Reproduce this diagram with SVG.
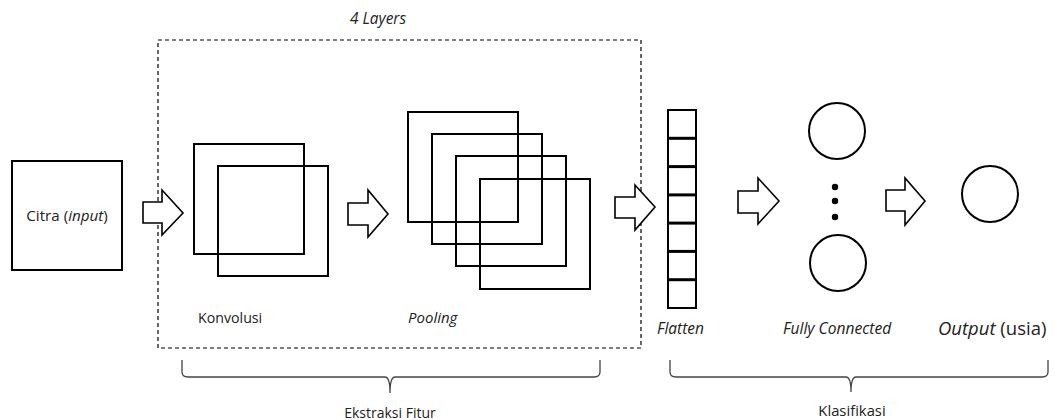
<svg xmlns="http://www.w3.org/2000/svg" width="1055" height="420" viewBox="0 0 1055 420">
  <style>
    .bx { fill: none; stroke: #000; stroke-width: 2; }
    .ar { fill: #fff; stroke: #000; stroke-width: 1.6; stroke-linejoin: miter; }
    .dash { fill: none; stroke: #000; stroke-width: 1.2; stroke-dasharray: 4 3; }
    .brace { fill: none; stroke: #444; stroke-width: 1.3; }
    .sep { stroke: #000; stroke-width: 3; }
    text { font-family: "Open Sans", "Noto Sans", "DejaVu Sans", sans-serif; font-size: 14px; fill: #222; }
    .it { font-style: italic; }
  </style>

  <!-- feature-extraction frame -->
  <g id="frame">
    <rect class="dash" x="158" y="40" width="483" height="308"/>
    <text class="it" x="350" y="24" style="font-size:15.4px">4 Layers</text>
  </g>

  <!-- input image -->
  <g id="input">
    <rect class="bx" x="12" y="161" width="110" height="109"/>
    <text x="67" y="221" text-anchor="middle" style="font-size:15.2px">Citra (<tspan class="it">input</tspan>)</text>
  </g>

  <!-- convolution maps -->
  <g id="konvolusi">
    <rect class="bx" x="194" y="144" width="110" height="110"/>
    <rect class="bx" x="218" y="166" width="110" height="110"/>
    <text x="198" y="323" style="font-size:14.2px">Konvolusi</text>
  </g>

  <!-- pooling maps -->
  <g id="pooling">
    <rect class="bx" x="408" y="112" width="110" height="110"/>
    <rect class="bx" x="432" y="134" width="110" height="110"/>
    <rect class="bx" x="456" y="156" width="110" height="110"/>
    <rect class="bx" x="480" y="179" width="110" height="110"/>
    <text class="it" x="408" y="323" style="font-size:15px">Pooling</text>
  </g>

  <!-- flatten vector -->
  <g id="flatten">
    <rect class="bx" x="668" y="110" width="28" height="198"/>
    <line class="sep" x1="668" y1="138.3" x2="696" y2="138.3"/>
    <line class="sep" x1="668" y1="166.6" x2="696" y2="166.6"/>
    <line class="sep" x1="668" y1="194.9" x2="696" y2="194.9"/>
    <line class="sep" x1="668" y1="223.1" x2="696" y2="223.1"/>
    <line class="sep" x1="668" y1="251.4" x2="696" y2="251.4"/>
    <line class="sep" x1="668" y1="279.7" x2="696" y2="279.7"/>
    <text class="it" x="657" y="334" style="font-size:15.5px">Flatten</text>
  </g>

  <!-- fully connected layer -->
  <g id="fully-connected">
    <circle class="bx" cx="837" cy="131" r="28"/>
    <circle class="bx" cx="838" cy="263" r="28"/>
    <circle cx="835" cy="187" r="3.2" fill="#000"/>
    <circle cx="835" cy="201" r="3.2" fill="#000"/>
    <circle cx="835" cy="217" r="3.2" fill="#000"/>
    <text class="it" x="783" y="334" style="font-size:15.6px">Fully Connected</text>
  </g>

  <!-- output -->
  <g id="output">
    <circle class="bx" cx="990" cy="194" r="28"/>
    <text x="938" y="335" style="font-size:18.5px"><tspan class="it">Output</tspan> (usia)</text>
  </g>

  <!-- block arrows between stages -->
  <g id="connectors">
    <path class="ar" d="M143,202 H162 V190 L183,213 L162,235 V223 H143 Z"/>
    <path class="ar" d="M348,203 H368 V190 L388,214 L368,237 V225 H348 Z"/>
    <path class="ar" d="M615,197 H635 V185 L655,207 L635,230 V218 H615 Z"/>
    <path class="ar" d="M738,191 H758 V178 L779,201 L758,224 V213 H738 Z"/>
    <path class="ar" d="M886,190 H905 V178 L925,201 L905,225 V211 H886 Z"/>
  </g>

  <!-- grouping braces -->
  <g id="ekstraksi">
    <path class="brace" d="M182,360 V372 Q182,377 188,377 H385 Q390,377 390,393 Q390,377 395,377 H594 Q600,377 600,372 V360"/>
    <text x="390" y="418" text-anchor="middle">Ekstraksi Fitur</text>
  </g>
  <g id="klasifikasi">
    <path class="brace" d="M670,360 V372 Q670,377 676,377 H846 Q851,377 851,392 Q851,377 856,377 H1042 Q1048,377 1048,372 V360"/>
    <text x="852" y="416" text-anchor="middle" style="font-size:14.8px">Klasifikasi</text>
  </g>
</svg>
